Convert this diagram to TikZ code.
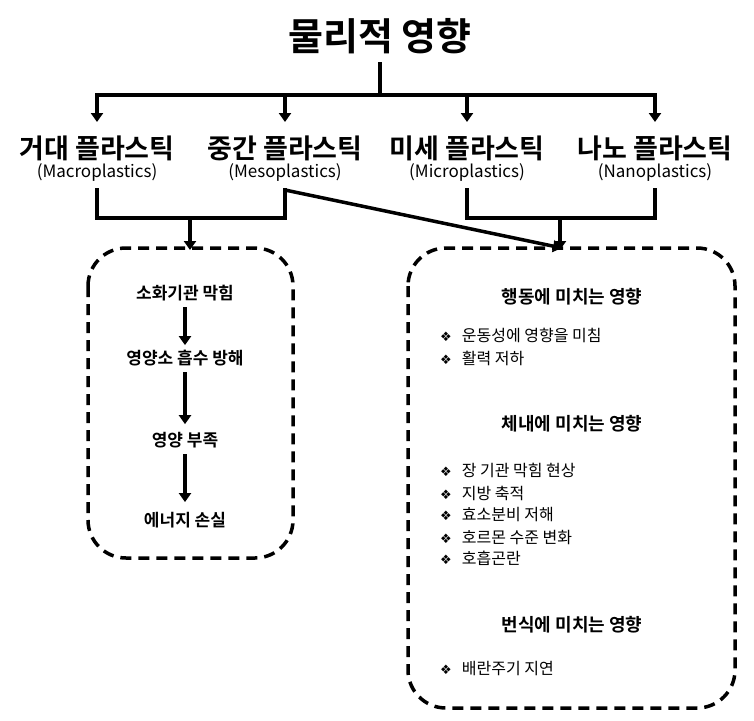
\documentclass[tikz,border=0pt]{standalone}
\usepackage{fontspec}
\setmainfont{Noto Sans CJK KR}
\newfontfamily\kb{Noto Sans CJK KR Bold}
\newfontfamily\sym{DejaVu Sans}
\usetikzlibrary{arrows.meta}
\tikzset{
 ln/.style={line width=3.5pt},
 ar/.style={line width=3.5pt,-{Triangle[length=9pt,width=12pt]}},
 box/.style={line width=3.5pt,dash pattern=on 11pt off 7pt,rounded corners=38pt},
 cat/.style={font=\kb\fontsize{27}{30}\selectfont,inner sep=0pt},
 sub/.style={font=\fontsize{17}{19}\selectfont,inner sep=0pt},
 st/.style={font=\kb\fontsize{17}{20}\selectfont,inner sep=0pt},
 hd/.style={font=\kb\fontsize{18}{21}\selectfont,inner sep=0pt},
 it/.style={font=\fontsize{16}{19}\selectfont,inner sep=0pt,anchor=west}
}
\newcommand{\bl}{{\sym\fontsize{13}{15}\selectfont ❖}\hspace{10pt}}
\begin{document}
\begin{tikzpicture}[x=1pt,y=-1pt]
\useasboundingbox[fill=white] (0,0) rectangle (754,720);
\node[font=\kb\fontsize{38}{42}\selectfont,inner sep=0pt] (t) at (380,36) {물리적 영향};
\coordinate (h0) at (380,95);
\draw[ln] (380,62) -- (h0);
\draw[ln] (97,95) -- (655,95);
\node[cat] (c1) at (97,148) {거대 플라스틱};
\node[cat] (c2) at (285,148) {중간 플라스틱};
\node[cat] (c3) at (467,148) {미세 플라스틱};
\node[cat] (c4) at (655,148) {나노 플라스틱};
\node[sub] (s1) at (97,172) {(Macroplastics)};
\node[sub] (s2) at (285,172) {(Mesoplastics)};
\node[sub] (s3) at (467,172) {(Microplastics)};
\node[sub] (s4) at (655,172) {(Nanoplastics)};
\foreach \x in {97,285,467,655} \draw[ar] (\x,93) -- (\x,122);
\draw[ln] (97,188) -- (97,218) -- (285,218) -- (285,188);
\draw[ln] (467,188) -- (467,218) -- (655,218) -- (655,188);
\draw[ar] (190,218) -- (190,250);
\draw[ar] (560,218) -- (560,250);
\draw[ar] (285,190) -- (562,248);
\draw[box] (88,248) rectangle (293,558);
\draw[box] (408,248) rectangle (735,708);
\node[st] (l1) at (185,293) {소화기관 막힘};
\node[st] (l2) at (185,358) {영양소 흡수 방해};
\node[st] (l3) at (185,440) {영양 부족};
\node[st] (l4) at (185,520) {에너지 손실};
\draw[ar] (l1.south) ++(0,6) -- ++(0,38);
\draw[ar] (l2.south) ++(0,6) -- ++(0,52);
\draw[ar] (l3.south) ++(0,6) -- ++(0,48);
\node[hd] at (572,297) {행동에 미치는 영향};
\node[it] at (440,335) {\bl 운동성에 영향을 미침};
\node[it] at (440,358) {\bl 활력 저하};
\node[hd] at (572,424) {체내에 미치는 영향};
\node[it] at (440,470) {\bl 장 기관 막힘 현상};
\node[it] at (440,493) {\bl 지방 축적};
\node[it] at (440,515) {\bl 효소분비 저해};
\node[it] at (440,537) {\bl 호르몬 수준 변화};
\node[it] at (440,558) {\bl 호흡곤란};
\node[hd] at (572,625) {번식에 미치는 영향};
\node[it] at (440,668) {\bl 배란주기 지연};
\end{tikzpicture}
\end{document}
